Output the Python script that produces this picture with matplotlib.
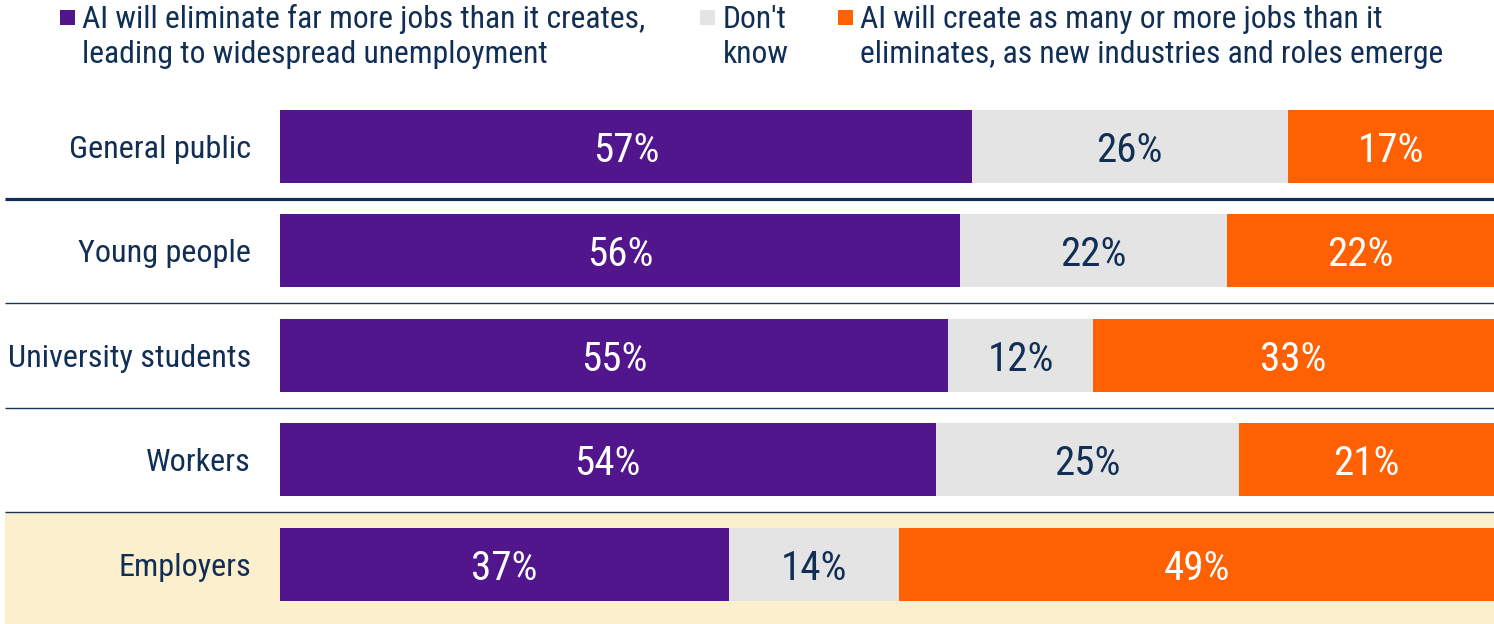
import matplotlib
matplotlib.use("Agg")
import matplotlib.pyplot as plt
from matplotlib.patches import Rectangle

# ---- data ----
categories = ["General public", "Young people", "University students", "Workers", "Employers"]
eliminate = [57, 56, 55, 54, 37]
dont_know = [26, 22, 12, 25, 14]
create = [17, 22, 33, 21, 49]
legend_labels = [
    ["AI will eliminate far more jobs than it creates,", "leading to widespread unemployment"],
    ["Don't", "know"],
    ["AI will create as many or more jobs than it", "eliminates, as new industries and roles emerge"],
]

# ---- style ----
FONT = ["Roboto Condensed", "DejaVu Sans"]
plt.rcParams["font.family"] = FONT
NAVY = "#112E55"
PURPLE = "#52168C"
GREY = "#E4E4E4"
ORANGE = "#FF6002"
BAND = "#FBEFCE"
colors = [PURPLE, GREY, ORANGE]
text_colors = ["white", NAVY, "white"]

W, H = 1494, 624
fig = plt.figure(figsize=(W / 100, H / 100), dpi=100)
ax = fig.add_axes([0, 0, 1, 1])

# pixel mapping: x=280px -> 0, x=1494px -> 100 ; row i centre at 146.5 + 104.4*i px
x0px, x1px = 280, 1494
pitch = 104.4
yc0 = 146.5
ax.set_xlim(-x0px / (x1px - x0px) * 100, 100)
ax.set_ylim((H - yc0) / pitch, -yc0 / pitch)
ax.axis("off")

def px2x(px):
    return (px - x0px) / (x1px - x0px) * 100

n = len(categories)
ys = list(range(n))

# highlight band for last row
band_top = n - 1 - 0.5
ax.add_patch(Rectangle((px2x(5), band_top), 100 - px2x(5), 5, facecolor=BAND, edgecolor="none", zorder=0))

bar_h = 0.70
lefts = [0] * n
for series, col, tcol in zip([eliminate, dont_know, create], colors, text_colors):
    ax.barh(ys, series, left=lefts, height=bar_h, color=col, edgecolor="none", zorder=2)
    for y, v, l in zip(ys, series, lefts):
        ax.text(l + v / 2, y, f"{v}%", ha="center", va="center_baseline", color=tcol,
                fontsize=29.5, zorder=3)
    lefts = [a + b for a, b in zip(lefts, series)]

for y, c in zip(ys, categories):
    ax.text(px2x(251), y, c, ha="right", va="center_baseline", color=NAVY, fontsize=23.2)

# separators
for i in range(n - 1):
    lw = 2.3 if i == 0 else 1.0
    ax.plot([px2x(5), 100], [i + 0.5, i + 0.5], color=NAVY if i == 0 else "#1B3558",
            lw=lw, solid_capstyle="butt", zorder=1)

# legend (figure pixel coords)
def fx(px):
    return px / W

def fy(px):
    return 1 - px / H

sq_x = [60, 700, 838]
txt_x = [82, 723, 860]
for sx, tx, col, lines in zip(sq_x, txt_x, colors, legend_labels):
    fig.patches.append(Rectangle((fx(sx), fy(25)), 15 / W, 15 / H, transform=fig.transFigure,
                                 facecolor=col, edgecolor="none", figure=fig))
    for j, line in enumerate(lines):
        fig.text(fx(tx), fy(28 + 35 * j), line, ha="left", va="baseline", color=NAVY, fontsize=22.8)

fig.savefig("out.png", dpi=100)
